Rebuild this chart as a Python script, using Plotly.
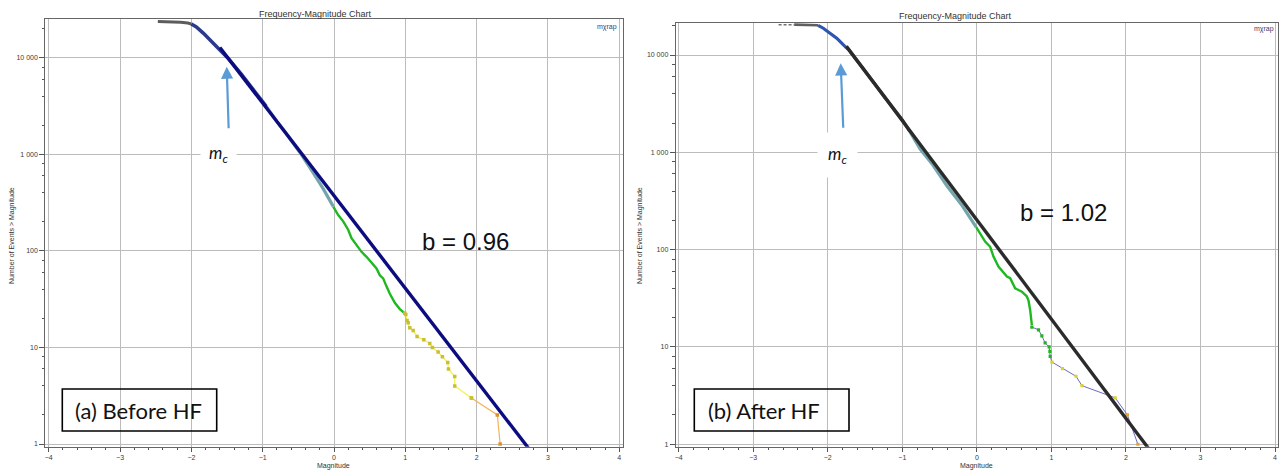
import plotly.graph_objects as go

W, H = 1279, 471

# ---------------- data: panel (a) Before HF ----------------
a_top_m = [-2.47, -2.3, -2.15, -2.05, -2.0]
a_top_n = [23900, 23800, 23500, 23000, 22500]
a_bend_m = [-2.0, -1.93, -1.83, -1.69, -1.55, -1.49, -1.3, -1.1, -0.95]
a_bend_n = [22500, 21000, 18000, 14200, 11300, 10000, 6800, 4400, 3150]
a_teal_m = [-0.95, -0.8, -0.65, -0.45, -0.3, -0.15, -0.011]
a_teal_n = [3150, 2190, 1575, 980, 660, 440, 290]
a_green_m = [-0.011, 0.059, 0.129, 0.199, 0.246, 0.339, 0.386, 0.456, 0.549, 0.596,
             0.643, 0.689, 0.736, 0.783, 0.853, 0.923, 0.993]
a_green_n = [288, 236, 203, 166, 136, 111, 98, 87, 72, 66, 56, 52, 43, 36, 29, 25, 22.6]
a_yel_m = [0.993, 1.007, 1.025, 1.04, 1.063, 1.11, 1.165, 1.259, 1.343, 1.38, 1.46,
           1.52, 1.595, 1.605, 1.693, 1.693, 1.927]
a_yel_n = [22.6, 22, 19, 18, 16, 15, 13, 12, 11, 10, 9, 8, 7, 6, 5, 4, 3]
a_org_m = [1.927, 2.29, 2.33]
a_org_n = [3, 2, 1]
a_fit_m = [-1.6, 2.75]
a_fit_n = [12850, 0.86]
a_b = "b = 0.96"

# ---------------- data: panel (b) After HF ----------------
b_dash_m = [-2.66, -2.45]
b_dash_n = [20500, 20500]
b_top_m = [-2.45, -2.3, -2.13]
b_top_n = [20500, 20450, 20200]
b_blue_m = [-2.13, -2.06, -1.97, -1.88, -1.79, -1.72]
b_blue_n = [20200, 18850, 16750, 14900, 12700, 11300]
b_mid_m = [-1.72, -1.5, -1.2, -1.0, -0.9]
b_mid_n = [11300, 6800, 3400, 2150, 1640]
b_teal_m = [-0.9, -0.76, -0.6, -0.4, -0.2, -0.009]
b_teal_n = [1640, 1080, 760, 450, 285, 170]
b_green_m = [-0.009, 0.044, 0.111, 0.179, 0.223, 0.290, 0.357, 0.403, 0.447, 0.514,
             0.604, 0.671, 0.693, 0.715, 0.738]
b_green_n = [170, 147, 121, 107, 85, 67, 59, 53, 51, 40, 37, 33, 30, 24, 16.8]
b_tail_m = [0.738, 0.827, 0.872, 0.916, 0.97, 0.98, 0.984, 1.007, 1.149, 1.33, 1.41,
            1.856, 2.02, 2.16]
b_tail_n = [16, 15, 13, 11, 10, 9, 8, 7, 6, 5, 4, 3, 2, 1]
b_tail_cls = ["g", "g", "g", "g", "g", "g", "g", "y", "y", "y", "y", "y", "o", "o"]
b_fit_m = [-1.75, 2.32]
b_fit_n = [12300, 0.87]
b_b = "b = 1.02"

y_tickvals = [1, 10, 100, 1000, 10000]
y_ticktext = ["1", "10", "100", "1 000", "10 000"]
y_minor = [m * 10 ** d for d in range(0, 5) for m in (2, 4, 6, 8)]
x_tickvals = [-4, -3, -2, -1, 0, 1, 2, 3, 4]

FONT = "Liberation Sans"
GREEN = "#1fb81f"
TEAL = "#74a5ad"
cls_col = {"g": "#22b522", "y": "#d6d330", "o": "#e8a030"}

fig = go.Figure()


def line(m, n, color, width, xa, ya, dash="solid", mode="lines", marker=None):
    fig.add_trace(go.Scatter(x=m, y=n, mode=mode, xaxis=xa, yaxis=ya,
                             line=dict(color=color, width=width, dash=dash),
                             marker=marker, hoverinfo="x+y", showlegend=False))


# panel a
line(a_top_m, a_top_n, "#5c5c5c", 3, "x", "y")
line(a_bend_m, a_bend_n, "#2a3a8c", 3.5, "x", "y")
line(a_teal_m, a_teal_n, TEAL, 3.2, "x", "y")
line(a_green_m, a_green_n, GREEN, 2.4, "x", "y")
line(a_yel_m, a_yel_n, "#f2f04a", 1.2, "x", "y", mode="lines+markers",
     marker=dict(symbol="square", size=3.5, color="#c8c030"))
line(a_org_m, a_org_n, "#f4b45a", 1.2, "x", "y", mode="lines+markers",
     marker=dict(symbol="square", size=3.5, color=["#c8c030", "#e0902a", "#e0902a"]))
line(a_fit_m, a_fit_n, "#0c0c80", 3.4, "x", "y")

# panel b
line(b_dash_m, b_dash_n, "#707070", 1.5, "x2", "y2", dash="3px,2px")
line(b_top_m, b_top_n, "#5f5f5f", 2.6, "x2", "y2")
line(b_blue_m, b_blue_n, "#2f55b0", 3.2, "x2", "y2")
line(b_mid_m, b_mid_n, "#3a3a3a", 3.2, "x2", "y2")
line(b_teal_m, b_teal_n, TEAL, 3.2, "x2", "y2")
line(b_green_m, b_green_n, GREEN, 2.4, "x2", "y2")
line(b_tail_m, b_tail_n, "#6a6ac8", 1.0, "x2", "y2", mode="lines+markers",
     marker=dict(symbol="square", size=3.2, color=[cls_col[c] for c in b_tail_cls]))
line(b_fit_m, b_fit_n, "#2b2b2b", 3.4, "x2", "y2")


def xaxis(domain, rng, anchor):
    return dict(domain=domain, range=rng, anchor=anchor, tickvals=x_tickvals,
                ticks="outside", ticklen=4, tickcolor="#555", tickwidth=1,
                tickfont=dict(family=FONT, size=7, color="#3a3a3a"),
                showgrid=True, gridcolor="#bcbcbc", gridwidth=1.2, zeroline=False,
                showline=True, linecolor="#666666", linewidth=1, mirror=True,
                minor=dict(dtick=0.2, tick0=0, ticks="outside", ticklen=2,
                           tickcolor="#555", showgrid=False))


def yaxis(domain, rng, anchor):
    return dict(domain=domain, range=rng, type="log", anchor=anchor,
                tickvals=y_tickvals, ticktext=y_ticktext, ticks="outside",
                ticklen=5, tickcolor="#555", tickwidth=1,
                tickfont=dict(family=FONT, size=7, color="#3a3a3a"),
                showgrid=True, gridcolor="#bcbcbc", gridwidth=1.2, zeroline=False,
                showline=True, linecolor="#666666", linewidth=1, mirror=True,
                minor=dict(tickmode="array", tickvals=y_minor, ticks="outside",
                           ticklen=2.5, tickcolor="#555", showgrid=False))


def px(v):
    return v / W


def py(v):
    return 1 - v / H


annotations = []


def txt(x, y, s, size, color="#333", family=FONT, xanchor="center", **kw):
    annotations.append(dict(x=px(x), y=py(y), xref="paper", yref="paper", text=s,
                            showarrow=False, xanchor=xanchor, yanchor="middle",
                            font=dict(family=family, size=size, color=color), **kw))


for cx, ty, rx, ry, yt, xt, bx, by, bs in [
        (315, 14, 619, 27, 12, 333, 465.5, 241, a_b),
        (956, 16, 1276, 29, 640, 976, 1063, 212, b_b)]:
    txt(cx, ty, "Frequency-Magnitude Chart", 9)
    txt(rx, ry, "mχrap", 7, color="#3c3c78", xanchor="right")
    txt(yt, 236, "Number of Events &gt; Magnitude", 7, textangle=-90)
    txt(xt, 466, "Magnitude", 7)
    txt(bx, by, bs, 24, color="#111")

txt(138, 410, "(a) Before HF", 22, color="#111", family="Lato")
txt(764, 410, "(b) After HF", 22, color="#111", family="Lato")

mc = "<i>m</i><sub><i>c</i></sub>"
for cx, cy, pad in [(218.5, 154, 8), (837.5, 155, 10)]:
    annotations.append(dict(x=px(cx), y=py(cy), xref="paper", yref="paper", text=mc,
                            showarrow=False, bgcolor="white", borderpad=pad,
                            xanchor="center", yanchor="middle",
                            font=dict(family="Lato", size=17, color="#111")))

for tx, ty, ax, ay in [(226.7, 66.7, 2, 63), (840.7, 63.3, 2.6, 66)]:
    annotations.append(dict(x=px(tx), y=py(ty), xref="paper", yref="paper", text="",
                            showarrow=True, arrowhead=2, arrowsize=1.1, arrowwidth=2.2,
                            arrowcolor="#5b9bd5", ax=ax, ay=ay))

shapes = []
for x0, x1 in [(62.3, 216.7), (694.3, 849)]:
    shapes.append(dict(type="rect", xref="paper", yref="paper", x0=px(x0), x1=px(x1),
                       y0=py(431), y1=py(389), line=dict(color="black", width=1.6),
                       fillcolor="rgba(0,0,0,0)", layer="above"))

fig.update_layout(
    width=W, height=H, margin=dict(l=0, r=0, t=0, b=0),
    paper_bgcolor="white", plot_bgcolor="white", showlegend=False,
    xaxis=xaxis([px(45.3), px(622.7)], [-4.048, 4.048], "y"),
    yaxis=yaxis([py(446.7), py(19)], [-0.028, 4.404], "x"),
    xaxis2=xaxis([px(675.7), px(1278.3)], [-4.040, 4.044], "y2"),
    yaxis2=yaxis([py(446.7), py(22.7)], [-0.025, 4.332], "x2"),
    annotations=annotations, shapes=shapes,
)

fig.write_html("out.html", config={"displayModeBar": False},
               post_script="document.body.style.margin='0px';"
                           "document.body.style.overflow='hidden';")
